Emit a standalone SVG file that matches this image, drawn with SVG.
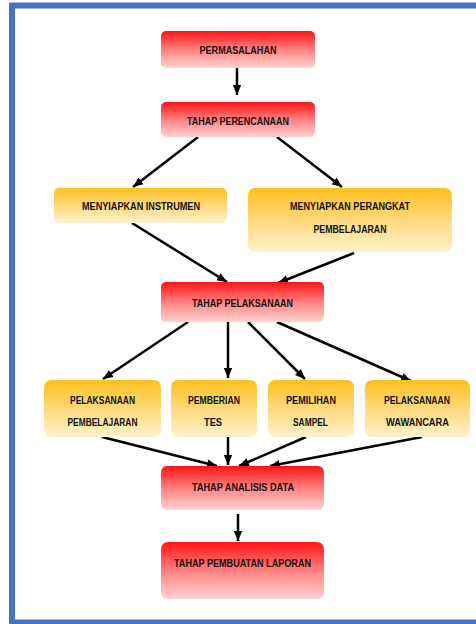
<svg xmlns="http://www.w3.org/2000/svg" width="476" height="624" viewBox="0 0 476 624">
<defs>
<linearGradient id="gRed" x1="0" y1="0" x2="0" y2="1">
<stop offset="0" stop-color="#ff1414"/>
<stop offset="0.55" stop-color="#ff8a8a"/>
<stop offset="1" stop-color="#ffd2d2"/>
</linearGradient>
<linearGradient id="gYel" x1="0" y1="0" x2="0" y2="1">
<stop offset="0" stop-color="#ffbf1f"/>
<stop offset="0.55" stop-color="#ffdc85"/>
<stop offset="1" stop-color="#fff2cc"/>
</linearGradient>
<marker id="ah" markerUnits="userSpaceOnUse" markerWidth="10" markerHeight="10" viewBox="0 0 10 10" refX="10" refY="5" orient="auto">
<path d="M0,0.8 L10,5 L0,9.2 Z" fill="#000"/>
</marker>
</defs>
<style>
.red{fill:url(#gRed)}
.yel{fill:url(#gYel)}
.t{font-family:"Liberation Sans",Arial,sans-serif;font-size:11.5px;font-weight:bold;fill:#111;text-anchor:middle}
.c{stroke:#000;stroke-width:2.5;fill:none;marker-end:url(#ah)}
</style>
<rect x="0" y="0" width="476" height="624" fill="#fff"/>
<path d="M12,624 V5.5 H479 M12,622.5 H479" fill="none" stroke="#4472c4" stroke-width="6"/>

<g id="connectors">
<line class="c" x1="237" y1="68" x2="237" y2="95"/>
<line class="c" x1="198" y1="137" x2="133" y2="187"/>
<line class="c" x1="277" y1="137" x2="342" y2="187"/>
<line class="c" x1="132" y1="223" x2="227" y2="282"/>
<line class="c" x1="354" y1="253" x2="278" y2="283"/>
<line class="c" x1="188" y1="322" x2="103" y2="379"/>
<line class="c" x1="228" y1="322" x2="228" y2="378"/>
<line class="c" x1="248" y1="322" x2="305" y2="379"/>
<line class="c" x1="277" y1="322" x2="411" y2="381"/>
<line class="c" x1="102" y1="437" x2="217" y2="466"/>
<line class="c" x1="228" y1="437" x2="228" y2="465"/>
<line class="c" x1="306" y1="437" x2="239" y2="466"/>
<line class="c" x1="422" y1="437" x2="270" y2="466"/>
<line class="c" x1="238" y1="514" x2="238" y2="541"/>
</g>

<g id="permasalahan">
<rect class="red" x="161" y="31" width="154" height="37" rx="5"/>
<text class="t" x="238" y="53.5" textLength="77" lengthAdjust="spacingAndGlyphs">PERMASALAHAN</text>
</g>
<g id="perencanaan">
<rect class="red" x="161" y="102" width="154" height="35" rx="5"/>
<text class="t" x="238" y="124.5" textLength="102" lengthAdjust="spacingAndGlyphs">TAHAP PERENCANAAN</text>
</g>
<g id="instrumen">
<rect class="yel" x="54" y="188" width="173" height="35" rx="5"/>
<text class="t" x="141" y="209.5" textLength="118" lengthAdjust="spacingAndGlyphs">MENYIAPKAN INSTRUMEN</text>
</g>
<g id="perangkat">
<rect class="yel" x="248" y="188" width="204" height="64" rx="7"/>
<text class="t" x="350" y="209.5" textLength="120" lengthAdjust="spacingAndGlyphs">MENYIAPKAN PERANGKAT</text>
<text class="t" x="350" y="232.5" textLength="73" lengthAdjust="spacingAndGlyphs">PEMBELAJARAN</text>
</g>
<g id="pelaksanaan">
<rect class="red" x="161" y="282" width="163" height="40" rx="5"/>
<text class="t" x="242.5" y="306.5" textLength="101" lengthAdjust="spacingAndGlyphs">TAHAP PELAKSANAAN</text>
</g>
<g id="pel-pembelajaran">
<rect class="yel" x="44" y="380" width="117" height="57" rx="7"/>
<text class="t" x="102.5" y="403.5" textLength="65" lengthAdjust="spacingAndGlyphs">PELAKSANAAN</text>
<text class="t" x="102.5" y="425.5" textLength="70" lengthAdjust="spacingAndGlyphs">PEMBELAJARAN</text>
</g>
<g id="pemberian-tes">
<rect class="yel" x="171" y="380" width="86" height="57" rx="7"/>
<text class="t" x="214" y="403.5" textLength="52" lengthAdjust="spacingAndGlyphs">PEMBERIAN</text>
<text class="t" x="213" y="425.5" textLength="18" lengthAdjust="spacingAndGlyphs">TES</text>
</g>
<g id="pemilihan-sampel">
<rect class="yel" x="268" y="380" width="86" height="57" rx="7"/>
<text class="t" x="311" y="403.5" textLength="50" lengthAdjust="spacingAndGlyphs">PEMILIHAN</text>
<text class="t" x="310.5" y="425.5" textLength="35" lengthAdjust="spacingAndGlyphs">SAMPEL</text>
</g>
<g id="pel-wawancara">
<rect class="yel" x="365" y="380" width="105" height="57" rx="7"/>
<text class="t" x="417" y="403.5" textLength="66" lengthAdjust="spacingAndGlyphs">PELAKSANAAN</text>
<text class="t" x="417.5" y="425.5" textLength="63" lengthAdjust="spacingAndGlyphs">WAWANCARA</text>
</g>
<g id="analisis">
<rect class="red" x="161" y="466" width="163" height="44" rx="6"/>
<text class="t" x="243" y="490.5" textLength="102" lengthAdjust="spacingAndGlyphs">TAHAP ANALISIS DATA</text>
</g>
<g id="laporan">
<rect class="red" x="161" y="542" width="163" height="57" rx="7"/>
<text class="t" x="242.5" y="566.5" textLength="137" lengthAdjust="spacingAndGlyphs">TAHAP PEMBUATAN LAPORAN</text>
</g>
</svg>
